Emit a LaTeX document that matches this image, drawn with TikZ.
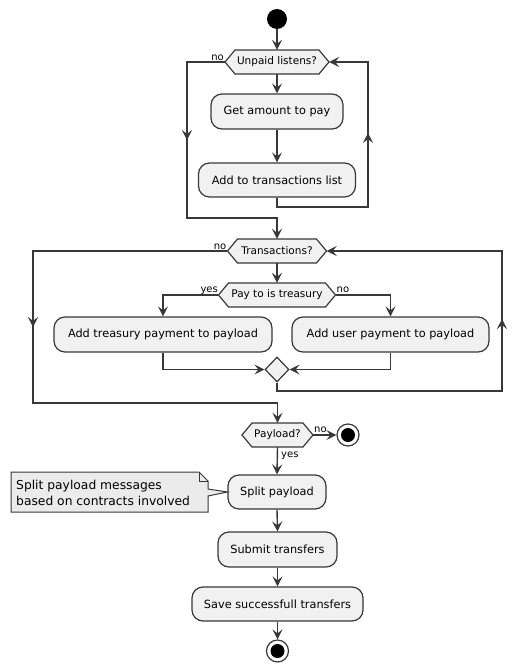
\documentclass[tikz,border=0pt]{standalone}
\usepackage{fontspec}
\setmainfont{DejaVu Sans}
\usetikzlibrary{arrows.meta,shapes.geometric}
\definecolor{lc}{HTML}{383838}
\definecolor{bg}{HTML}{F1F1F1}
\definecolor{nbg}{HTML}{EBEBEB}
\tikzset{
  ln/.style={draw=lc, line width=1.4pt},
  ar/.style={ln, -{Stealth[length=10pt,width=10pt,inset=4pt]}},
  act/.style={draw=lc, fill=bg, line width=1.2pt, rounded corners=11pt, inner sep=0pt,
    font=\fontsize{11.3}{13}\selectfont, text=black},
  hx/.style={inner sep=0pt, minimum height=24pt, font=\fontsize{10.5}{12}\selectfont, text=black},
  hxline/.style={fill=bg, draw=lc, line width=1.2pt},
  lbl/.style={font=\fontsize{10}{12}\selectfont, inner sep=0pt, text=black},
}
\newcommand\hexa[5]{%
  \filldraw[hxline] (#2-#4,#3) -- (#2-#4+10,#3-12) -- (#2+#4-10,#3-12) -- (#2+#4,#3)
    -- (#2+#4-10,#3+12) -- (#2-#4+10,#3+12) -- cycle;
  \node[hx, minimum width={2*#4}] (#1) at (#2,#3) {#5};
}
\begin{document}
\begin{tikzpicture}[x=1pt,y=-1pt]
\useasboundingbox (0,0) rectangle (527,672);
\fill[white] (0,0) rectangle (527,672);

% nodes
\node[circle, fill=black, minimum size=20pt, inner sep=0pt] (start) at (277,19) {};
\hexa{d1}{277}{62}{52}{Unpaid listens?}
\node[act, minimum width=132pt, minimum height=35pt] (a1) at (277,111.5) {Get amount to pay};
\node[act, minimum width=157pt, minimum height=34pt] (a2) at (277,180) {Add to transactions list};
\hexa{d2}{277}{251}{49.5}{Transactions?}
\hexa{d3}{277}{295}{58.5}{Pay to is treasury}
\node[act, minimum width=218pt, minimum height=35pt] (b1) at (163,334.5) {Add treasury payment to payload};
\node[act, minimum width=197pt, minimum height=35pt] (b2) at (390.5,334.5) {Add user payment to payload};
\node[diamond, draw=lc, fill=bg, line width=1.2pt, minimum width=24pt, minimum height=25pt, inner sep=0pt] (m) at (277,369.5) {};
\hexa{d4}{277.5}{435}{35.5}{Payload?}
\node[circle, draw=lc, fill=white, line width=1.2pt, minimum size=22pt, inner sep=0pt] (end1) at (348,435) {};
\fill[black] (end1.center) circle (7pt);
\node[act, minimum width=98pt, minimum height=34pt] (s1) at (277,492) {Split payload};
\node[act, minimum width=119pt, minimum height=35pt] (s2) at (277.5,549.5) {Submit transfers};
\node[act, minimum width=171pt, minimum height=34pt] (s3) at (277.5,604) {Save successfull transfers};
\node[circle, draw=lc, fill=white, line width=1.2pt, minimum size=22pt, inner sep=0pt] (end2) at (277.5,651) {};
\fill[black] (end2.center) circle (7pt);

% note
\filldraw[fill=nbg, draw=lc, line width=1pt] (11,472) -- (199,472) -- (208,481) -- (208,489)
  -- (s1.west) -- (208,496) -- (208,512) -- (11,512) -- cycle;
\draw[draw=lc, line width=1pt] (199,472) -- (199,481) -- (208,481);
\node[anchor=west, align=left, inner sep=0pt, font=\fontsize{12.3}{16}\selectfont, text=black] (note) at (16,492.5)
  {Split payload messages\\based on contracts involved};

% connectors
\draw[ar] (start) -- (d1.north);
\draw[ar] (d1.south) -- (a1.north);
\draw[ar] (a1.south) -- (a2.north);
\draw[ar] (a2.south) |- (368,207) |- (d1.east);
\draw[ar] (368,150) -- (368,133);
\draw[ar] (d1.west) -| (187,218) -| (d2.north);
\draw[ar] (187,125) -- (187,140);
\node[lbl, anchor=base east] (no1) at (224,60) {no};

\draw[ar] (d2.south) -- (d3.north);
\draw[ar] (d3.west) -| (b1.north);
\draw[ar] (d3.east) -| (b2.north);
\node[lbl, anchor=base east] (yes1) at (218,292.5) {yes};
\node[lbl, anchor=base west] (no3) at (336.5,292) {no};
\draw[ar] (b1.south) |- (m.west);
\draw[ar] (b2.south) |- (m.east);
\draw[ar] (m.south) |- (502,391) |- (d2.east);
\draw[ar] (502,335) -- (502,319);
\draw[ar] (d2.west) -| (33,403) -| (d4.north);
\draw[ar] (33,312) -- (33,327);
\node[lbl, anchor=base east] (no2) at (226.5,249) {no};

\draw[ar] (d4.east) -- (end1.west);
\node[lbl, anchor=base west] (no4) at (314,432.5) {no};
\draw[ar] (d4.south) -- (s1.north);
\node[lbl, anchor=base west] (yes2) at (281,457) {yes};
\draw[ar] (s1.south) -- (s2.north);
\draw[ar] (s2.south) -- (s3.north);
\draw[ar] (s3.south) -- (end2.north);
\end{tikzpicture}
\end{document}
